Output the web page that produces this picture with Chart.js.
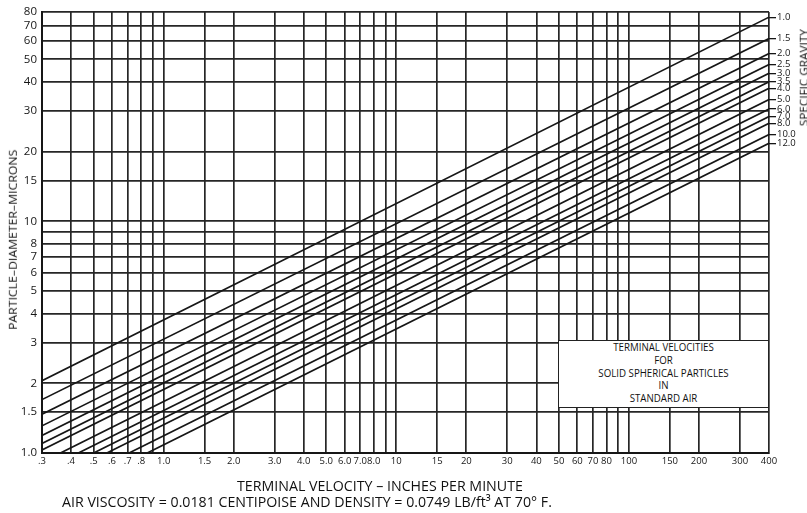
<!DOCTYPE html>
<html><head><meta charset="utf-8">
<script src="https://cdn.jsdelivr.net/npm/chart.js@4.4.1/dist/chart.umd.min.js"></script>
<style>
html,body{margin:0;padding:0;background:#fff;}
#wrap{position:relative;width:807px;height:513px;overflow:hidden;font-family:"Open Sans",sans-serif;color:#111;}
canvas{position:absolute;left:0;top:0;}
.t{position:absolute;white-space:nowrap;line-height:1;color:#111;}
#box{position:absolute;left:558px;top:340px;width:211px;height:68px;background:#fff;border:1.5px solid #222;box-sizing:border-box;text-align:center;font-size:10.5px;line-height:12.75px;overflow:hidden;color:#111;}
#boxin{display:inline-block;white-space:nowrap;transform-origin:50% 0;}
</style></head>
<body><div id="wrap"><canvas id="c" width="807" height="513"></canvas>
<div id="box"><div id="boxin">TERMINAL VELOCITIES<br>FOR<br>SOLID SPHERICAL PARTICLES<br>IN<br>STANDARD AIR</div></div>
<div class="t" id="xt1">TERMINAL VELOCITY – INCHES PER MINUTE</div>
<div class="t" id="xt2">AIR VISCOSITY = 0.0181 CENTIPOISE AND DENSITY = 0.0749 LB/ft³ AT 70° F.</div>
<div class="t" id="yt">PARTICLE–DIAMETER–MICRONS</div>
<div class="t" id="sg">SPECIFIC GRAVITY</div>
</div>
<script>
// ---- data ----
const specificGravity = ['1.0','1.5','2.0','2.5','3.0','3.5','4.0','5.0','6.0','7.0','8.0','10.0','12.0'];
const startVelocity = [0.3,0.3,0.3,0.3,0.3,0.3,0.3,0.36,0.43,0.5,0.57,0.71,0.85];
const startDiameter = [2.05,1.7,1.47,1.31,1.19,1.1,1.03,1,1,1,1,1,1];
const endVelocity   = [400,400,400,400,400,400,400,400,400,400,400,400,400];
const endDiameter   = [76,61.5,53,47.5,43.5,40,37.5,33.5,30.5,28.3,26.5,23.7,21.7];

const xTickValues = [0.3,0.4,0.5,0.6,0.7,0.8,0.9,1,1.5,2,3,4,5,6,7,8,9,10,15,20,30,40,50,60,70,80,90,100,150,200,300,400];
const xTickLabels = ['.3','.4','.5','.6','.7','.8','','1.0','1.5','2.0','3.0','4.0','5.0','6.0','7.0','8.0','','10','15','20','30','40','50','60','70','80','','100','150','200','300','400'];
const yTickValues = [1,1.5,2,3,4,5,6,7,8,9,10,15,20,30,40,50,60,70,80];
const yTickLabels = ['1.0','1.5','2','3','4','5','6','7','8','','10','15','20','30','40','50','60','70','80'];

const INK = '#161616';
const GRID = '#262626';

const datasets = specificGravity.map((sg,i)=>({
  label: 'Specific gravity ' + sg,
  data: [{x:startVelocity[i], y:startDiameter[i]}, {x:endVelocity[i], y:endDiameter[i]}],
  borderColor: INK, borderWidth: 1.7, pointRadius: 0, tension: 0, fill: false
}));

new Chart(document.getElementById('c'), {
  type: 'line',
  data: { datasets },
  options: {
    responsive: false, animation: false, devicePixelRatio: 1,
    layout: { padding: { top: 12, left: 0, right: 0, bottom: 0 } },
    plugins: { legend: { display: false }, tooltip: { enabled: false } },
    scales: {
      x: {
        type: 'logarithmic', min: 0.3, max: 400,
        afterBuildTicks: s => { s.ticks = xTickValues.map(v => ({ value: v })); },
        afterFit: s => { s.height = 60; },
        ticks: { autoSkip: false, maxRotation: 0, minRotation: 0, padding: 3, color: INK,
                 font: { family: 'Open Sans', size: 9.5 },
                 callback: (v, i) => xTickLabels[i] },
        grid: { color: GRID, lineWidth: 1.7, drawTicks: false },
        border: { color: INK, width: 2 }
      },
      y: {
        type: 'logarithmic', position: 'left', min: 1, max: 80,
        afterBuildTicks: s => { s.ticks = yTickValues.map(v => ({ value: v })); },
        afterFit: s => { s.width = 42; },
        ticks: { autoSkip: false, padding: 5, color: INK,
                 font: { family: 'Open Sans', size: 11.5 },
                 callback: (v, i) => yTickLabels[i] },
        grid: { color: GRID, lineWidth: 1.7, drawTicks: false },
        border: { color: INK, width: 2 }
      },
      sg: {
        type: 'logarithmic', position: 'right', min: 1, max: 80,
        afterBuildTicks: s => { s.ticks = endDiameter.map((v, i) => ({ value: v, sg: specificGravity[i] })); },
        afterFit: s => { s.width = 38; },
        ticks: { autoSkip: false, padding: 1, color: INK,
                 font: { family: 'Open Sans', size: 9.5 },
                 callback: (v, i, t) => t[i].sg },
        grid: { drawOnChartArea: false, drawTicks: true, tickLength: 7, color: INK, lineWidth: 1.3 },
        border: { display: false }
      }
    }
  }
});

function place(id, cx, cy, w, size, rot) {
  const el = document.getElementById(id);
  el.style.fontSize = size + 'px';
  const nw = el.offsetWidth, nh = el.offsetHeight;
  el.style.left = (cx - nw / 2) + 'px';
  el.style.top = (cy - nh / 2) + 'px';
  el.style.transformOrigin = '50% 50%';
  el.style.transform = (rot ? 'rotate(' + rot + 'deg) ' : '') + 'scaleX(' + (w / nw) + ')';
}
place('xt1', 380, 485, 286, 15, 0);
place('xt2', 307, 501.5, 490, 15, 0);
place('yt', 12, 240, 180, 11.5, -90);
place('sg', 803, 78, 97, 11.5, -90);
const bi = document.getElementById('boxin');
bi.style.transform = 'scaleX(' + (158 / 171) + ')';
</script>
</body></html>
